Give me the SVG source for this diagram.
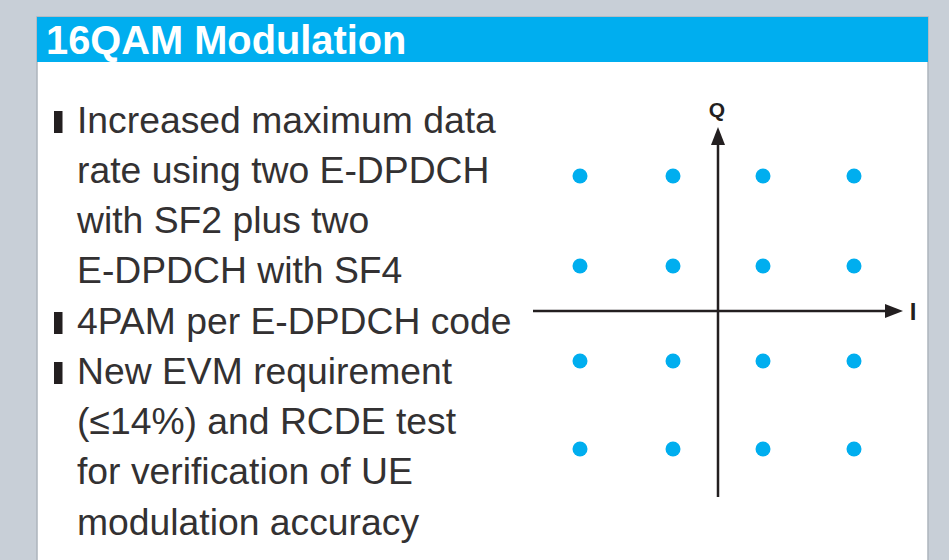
<svg xmlns="http://www.w3.org/2000/svg" width="949" height="560" viewBox="0 0 949 560">
<style>
.body{font-family:"Liberation Sans",Arial,sans-serif;font-size:37.3px;fill:#333132;}
.ax{font-family:"Liberation Sans",Arial,sans-serif;font-weight:bold;fill:#231f20;}
.dot{fill:#00aeef;}
.axis{stroke:#231f20;stroke-width:2.5;fill:none;}
.bul{fill:#231f20;}
</style>
<defs>
<marker id="arr" viewBox="0 0 18 14" refX="0" refY="7" markerWidth="18" markerHeight="14" markerUnits="userSpaceOnUse" orient="auto">
<path d="M0,0 L18,7 L0,14 Z" fill="#231f20"/>
</marker>
</defs>
<rect x="0" y="0" width="949" height="560" fill="#c8cfd7"/>
<g id="panel">
<rect x="37" y="17" width="891" height="560" fill="#ffffff" stroke="#adb5bd" stroke-width="1.5"/>
<rect x="37" y="17" width="891" height="45" fill="#00aeef"/>
<text x="46" y="53.5" font-family="'Liberation Sans',Arial,sans-serif" font-weight="bold" font-size="39.8" fill="#ffffff">16QAM Modulation</text>
</g>
<g id="bullets">
<rect class="bul" x="54" y="111" width="8.5" height="22"/>
<rect class="bul" x="54" y="312" width="8.5" height="22"/>
<rect class="bul" x="54" y="362" width="8.5" height="22"/>
<text class="body" x="77" y="133">Increased maximum data</text>
<text class="body" x="77" y="183">rate using two E-DPDCH</text>
<text class="body" x="77" y="233">with SF2 plus two</text>
<text class="body" x="77" y="283">E-DPDCH with SF4</text>
<text class="body" x="77" y="334">4PAM per E-DPDCH code</text>
<text class="body" x="77" y="384">New EVM requirement</text>
<text class="body" x="77" y="434">(≤14%) and RCDE test</text>
<text class="body" x="77" y="484">for verification of UE</text>
<text class="body" x="77" y="535">modulation accuracy</text>
</g>
<g id="connectors">
<line class="axis" x1="718" y1="497" x2="718" y2="145" marker-end="url(#arr)"/>
<line class="axis" x1="533" y1="311" x2="885" y2="311" marker-end="url(#arr)"/>
</g>
<g id="labels">
<text class="ax" x="717" y="117" font-size="21" text-anchor="middle">Q</text>
<text class="ax" x="913" y="320" font-size="24" text-anchor="middle">I</text>
</g>
<g id="constellation">
<circle class="dot" cx="580" cy="176" r="7.5"/>
<circle class="dot" cx="673" cy="176" r="7.5"/>
<circle class="dot" cx="763" cy="176" r="7.5"/>
<circle class="dot" cx="854" cy="176" r="7.5"/>
<circle class="dot" cx="580" cy="266" r="7.5"/>
<circle class="dot" cx="673" cy="266" r="7.5"/>
<circle class="dot" cx="763" cy="266" r="7.5"/>
<circle class="dot" cx="854" cy="266" r="7.5"/>
<circle class="dot" cx="580" cy="361" r="7.5"/>
<circle class="dot" cx="673" cy="361" r="7.5"/>
<circle class="dot" cx="763" cy="361" r="7.5"/>
<circle class="dot" cx="854" cy="361" r="7.5"/>
<circle class="dot" cx="580" cy="449" r="7.5"/>
<circle class="dot" cx="673" cy="449" r="7.5"/>
<circle class="dot" cx="763" cy="449" r="7.5"/>
<circle class="dot" cx="854" cy="449" r="7.5"/>
</g>
</svg>
